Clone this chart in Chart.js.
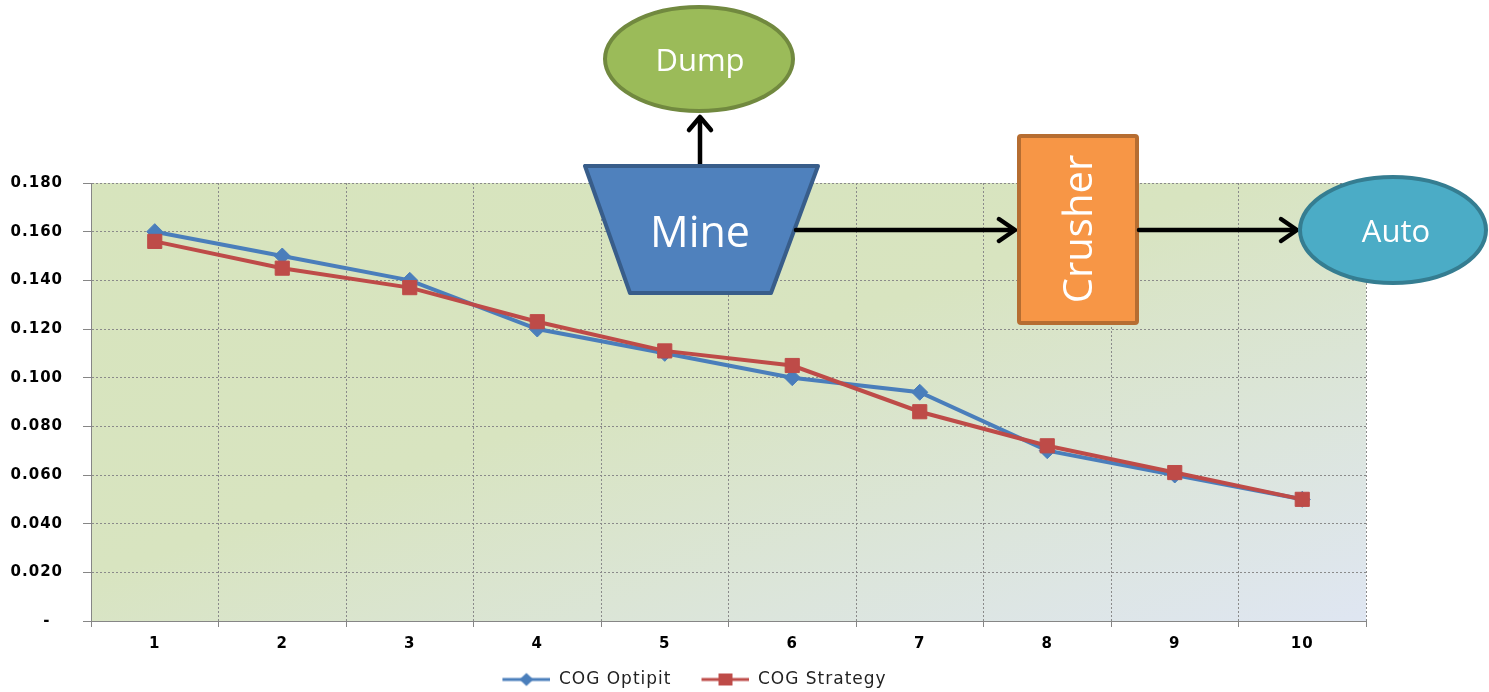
<!DOCTYPE html>
<html>
<head>
<meta charset="utf-8">
<script src="https://cdn.jsdelivr.net/npm/chart.js@4"></script>
<style>
  html, body { margin: 0; padding: 0; background: #ffffff; }
  #wrap { position: relative; width: 1489px; height: 692px; }
  #chart { position: absolute; left: 0; top: 0; }
  #flow { position: absolute; left: 0; top: 0; pointer-events: none; }
  #flow text { font-family: "Open Sans", "Noto Sans", sans-serif; fill: #ffffff; }
</style>
</head>
<body>
<div id="wrap">
  <canvas id="chart" width="1489" height="692"></canvas>
  <svg id="flow" width="1489" height="692" viewBox="0 0 1489 692">
    <!-- Dump -->
    <ellipse cx="699" cy="59" rx="94" ry="52" fill="#9bbb59" stroke="#71893f" stroke-width="4"/>
    <text x="700" y="71" font-size="31" text-anchor="middle">Dump</text>
    <!-- Mine -> Dump -->
    <g stroke="#000" stroke-width="4.5" fill="none" stroke-linecap="round" stroke-linejoin="round">
      <line x1="700" y1="164" x2="700" y2="118"/>
      <polyline points="689,130 700,117 711,130"/>
    </g>
    <!-- Mine -->
    <polygon points="585,166 818,166 771,293 630,293" fill="#4f81bd" stroke="#385d8a" stroke-width="4" stroke-linejoin="round"/>
    <text x="700" y="247" font-size="43" text-anchor="middle">Mine</text>
    <!-- Mine -> Crusher -->
    <g stroke="#000" stroke-width="4.5" fill="none" stroke-linecap="round" stroke-linejoin="round">
      <line x1="796" y1="230" x2="1014" y2="230"/>
      <polyline points="999,219 1015,230 999,241"/>
    </g>
    <!-- Crusher -->
    <rect x="1019" y="136" width="118" height="187" rx="2" fill="#f79646" stroke="#b66d31" stroke-width="4"/>
    <text transform="translate(1092,229) rotate(-90)" font-size="40" text-anchor="middle">Crusher</text>
    <!-- Crusher -> Auto -->
    <g stroke="#000" stroke-width="4.5" fill="none" stroke-linecap="round" stroke-linejoin="round">
      <line x1="1139" y1="230" x2="1295" y2="230"/>
      <polyline points="1281,219 1297,230 1281,241"/>
    </g>
    <!-- Auto -->
    <ellipse cx="1393" cy="230" rx="93" ry="53" fill="#4bacc6" stroke="#357d91" stroke-width="4"/>
    <text x="1396" y="242" font-size="31" text-anchor="middle">Auto</text>
  </svg>
</div>
<script>
// Periods on the x axis
const categories = ['1', '2', '3', '4', '5', '6', '7', '8', '9', '10'];

// Cut-off grade per period
const cogOptipit  = [0.160, 0.150, 0.140, 0.120, 0.110, 0.100, 0.094, 0.070, 0.060, 0.050];
const cogStrategy = [0.156, 0.145, 0.137, 0.123, 0.111, 0.105, 0.086, 0.072, 0.061, 0.050];

// Value axis ticks
const yTicks = [0, 0.02, 0.04, 0.06, 0.08, 0.10, 0.12, 0.14, 0.16, 0.18];

const seriesNames = ['COG Optipit', 'COG Strategy'];
const blue = '#4a7ebb';
const red = '#be4b48';

// Legend swatch: a line with the series marker in its middle (16px blank lead-in for spacing)
function legendSwatch(color, marker) {
  const c = document.createElement('canvas');
  c.width = 64; c.height = 16;
  const g = c.getContext('2d');
  g.strokeStyle = color;
  g.lineWidth = 3;
  g.beginPath(); g.moveTo(16, 8); g.lineTo(64, 8); g.stroke();
  g.fillStyle = color;
  g.beginPath();
  if (marker === 'diamond') {
    g.moveTo(40, 1.5); g.lineTo(47, 8); g.lineTo(40, 14.5); g.lineTo(33, 8);
  } else {
    g.rect(33, 2, 14, 12);
  }
  g.closePath(); g.fill();
  return c;
}
const swatches = [legendSwatch(blue, 'diamond'), legendSwatch(red, 'square')];

// Plot-area fill: green at top-left fading to pale blue at bottom-right
const plotBackground = {
  id: 'plotBackground',
  beforeDraw(chart) {
    const { ctx, chartArea: a } = chart;
    const W = a.right - a.left, H = a.bottom - a.top;
    const L2 = W * W + H * H;
    const g = ctx.createLinearGradient(a.left, a.top,
      a.left + 2 * W * H * H / L2, a.top + 2 * W * W * H / L2);
    g.addColorStop(0, '#d7e4bd');
    g.addColorStop(0.45, '#d8e4c0');
    g.addColorStop(1, '#dfe6f2');
    ctx.save();
    ctx.fillStyle = g;
    ctx.fillRect(a.left, a.top, W, H);
    ctx.restore();
  }
};

// Slightly wider lettering for the axis and legend text
const wideText = {
  id: 'wideText',
  beforeUpdate(chart) { chart.ctx.letterSpacing = '1px'; },
  beforeDraw(chart) { chart.ctx.letterSpacing = '1px'; }
};

const gridColor = '#8a8a8a';
const axisColor = '#868686';
const tickFont = { family: '"DejaVu Sans", Verdana, sans-serif', size: 15, weight: 'bold' };

new Chart(document.getElementById('chart'), {
  type: 'line',
  data: {
    labels: categories,
    datasets: [
      {
        label: seriesNames[0],
        data: cogOptipit,
        borderColor: blue,
        backgroundColor: blue,
        borderWidth: 4,
        pointStyle: 'rectRot',
        pointRadius: 8,
        pointBorderWidth: 1,
        pointBorderColor: blue,
        pointBackgroundColor: blue,
        tension: 0,
        order: 1
      },
      {
        label: seriesNames[1],
        data: cogStrategy,
        borderColor: red,
        backgroundColor: red,
        borderWidth: 4,
        pointStyle: 'rect',
        pointRadius: 10,
        pointBorderWidth: 1,
        pointBorderColor: red,
        pointBackgroundColor: red,
        tension: 0,
        order: 0
      }
    ]
  },
  options: {
    responsive: false,
    animation: false,
    layout: { padding: { left: 0, right: 116, top: 183, bottom: -6 } },
    scales: {
      x: {
        type: 'category',
        offset: true,
        afterFit(scale) { scale.height = 36; },
        grid: {
          offset: true,
          color: gridColor,
          lineWidth: 1,
          drawTicks: true,
          tickLength: 6,
          tickColor: axisColor,
          tickBorderDash: []
        },
        border: { display: true, color: axisColor, width: 1, dash: [2, 2] },
        ticks: {
          color: '#000000',
          font: tickFont,
          padding: 8,
          maxRotation: 0,
          autoSkip: false
        }
      },
      y: {
        min: 0,
        max: 0.18,
        afterFit(scale) { scale.width = 91; },
        afterBuildTicks(scale) { scale.ticks = yTicks.map(v => ({ value: v })); },
        grid: {
          color: gridColor,
          lineWidth: 1,
          drawTicks: true,
          tickLength: 8,
          tickColor: axisColor,
          tickBorderDash: []
        },
        border: { display: true, color: axisColor, width: 1, dash: [2, 2] },
        ticks: {
          color: '#000000',
          font: tickFont,
          padding: 20,
          callback(value) { return value === 0 ? '-  ' : Number(value).toFixed(3); }
        }
      },
      // empty right-hand strip so the legend sits centred under the plot
      yRight: {
        type: 'linear',
        position: 'right',
        afterFit(scale) { scale.width = 7; },
        grid: { display: false },
        border: { display: false },
        ticks: { display: false }
      }
    },
    plugins: {
      tooltip: { enabled: false },
      legend: {
        position: 'bottom',
        labels: {
          usePointStyle: true,
          pointStyleWidth: 64,
          padding: 14,
          color: '#222222',
          font: { family: '"DejaVu Sans", Verdana, sans-serif', size: 17 },
          generateLabels(chart) {
            return chart.data.datasets.map((ds, i) => ({
              text: ds.label,
              datasetIndex: i,
              pointStyle: swatches[i],
              fillStyle: ds.borderColor,
              strokeStyle: ds.borderColor,
              lineWidth: 0,
              hidden: false,
              fontColor: '#222222'
            }));
          }
        }
      }
    }
  },
  plugins: [plotBackground, wideText]
});
</script>
</body>
</html>
